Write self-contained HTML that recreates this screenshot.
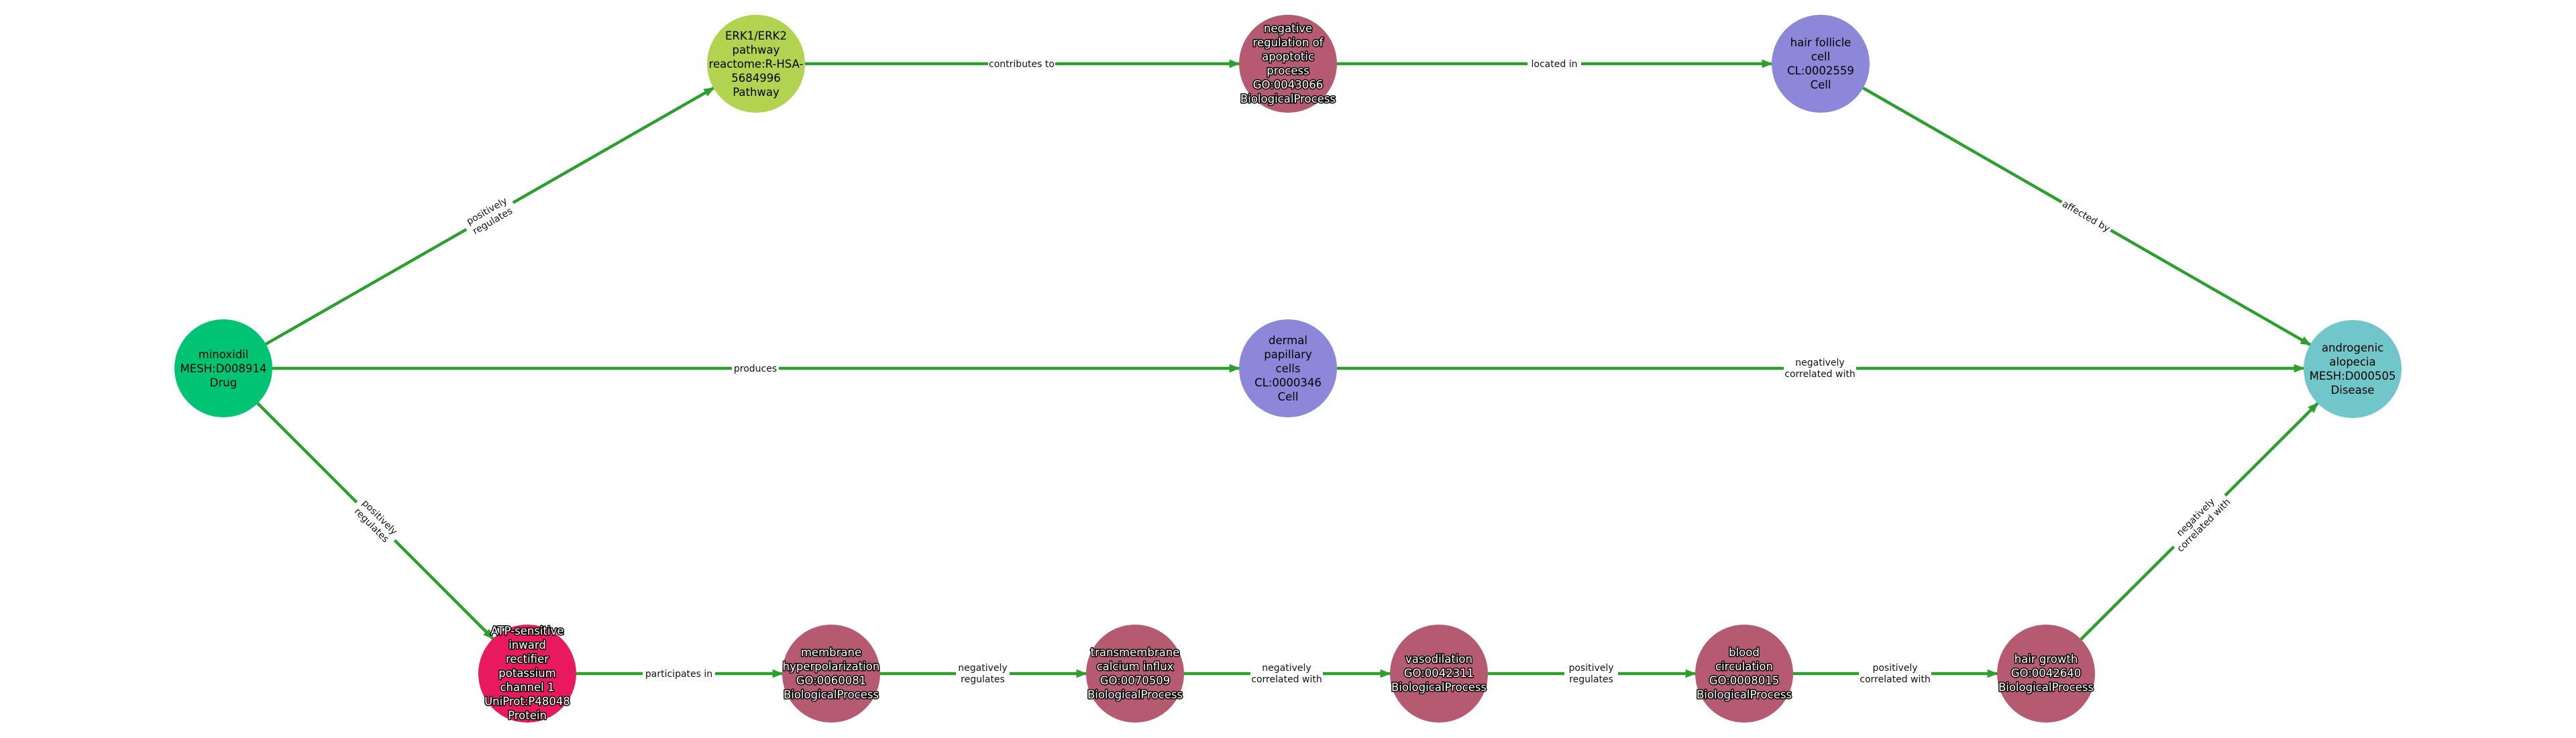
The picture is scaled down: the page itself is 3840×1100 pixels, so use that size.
<!DOCTYPE html>
<html><head><meta charset="utf-8"><style>
html,body{margin:0;padding:0;background:#fff;}
svg{display:block;}
.n{font-family:"DejaVu Sans","Liberation Sans",sans-serif;font-size:16.5px;text-anchor:middle;fill:#000;}
.w{fill:#fff;stroke:#000;stroke-width:3px;paint-order:stroke;stroke-linejoin:round;}
.e{font-family:"DejaVu Sans","Liberation Sans",sans-serif;font-size:14px;text-anchor:middle;fill:#111;}
.l{stroke:#2ca02c;stroke-width:4.5;fill:none;}
</style></head><body>
<svg width="3840" height="1100" viewBox="0 0 3840 1100" xmlns="http://www.w3.org/2000/svg">
<defs><marker id="a" markerWidth="10" markerHeight="8" refX="9" refY="4" orient="auto" markerUnits="userSpaceOnUse"><path d="M0,0 L10,4 L0,8 Z" fill="#2ca02c"/></marker>
<marker id="b" viewBox="0 0 10 8" markerWidth="16" markerHeight="13" refX="9" refY="4" orient="auto" markerUnits="userSpaceOnUse"><path d="M0,0 L10,4 L0,8 Z" fill="#2ca02c"/></marker></defs>
<g class="l" marker-end="url(#b)">
<line x1="396" y1="513" x2="1064" y2="131"/>
<line x1="406" y1="549" x2="1847" y2="549"/>
<line x1="384" y1="601" x2="735" y2="952"/>
<line x1="1200" y1="95" x2="1847" y2="95"/>
<line x1="1993" y1="95" x2="2641" y2="95"/>
<line x1="2777" y1="131" x2="3444" y2="514"/>
<line x1="1993" y1="549" x2="3434" y2="549"/>
<line x1="3102" y1="953" x2="3455" y2="601"/>
<line x1="859" y1="1004" x2="1166" y2="1004"/>
<line x1="1312" y1="1004" x2="1619" y2="1004"/>
<line x1="1765" y1="1004" x2="2072" y2="1004"/>
<line x1="2218" y1="1004" x2="2527" y2="1004"/>
<line x1="2673" y1="1004" x2="2977" y2="1004"/>
</g>
<!-- edge labels -->
<g class="e">
<g transform="translate(730,322) rotate(-29.8)"><rect x="-40" y="-20" width="80" height="38" fill="#fff"/><text y="-4">positively</text><text y="13">regulates</text></g>
<g transform="translate(560,777) rotate(45)"><rect x="-40" y="-20" width="80" height="38" fill="#fff"/><text y="-4">positively</text><text y="13">regulates</text></g>
<g transform="translate(3110,322) rotate(29.8)"><rect x="-42" y="-11" width="84" height="20" fill="#fff"/><text y="5">affected by</text></g>
<g transform="translate(3279,777) rotate(-45)"><rect x="-54" y="-20" width="108" height="38" fill="#fff"/><text y="-4">negatively</text><text y="13">correlated with</text></g>
<g transform="translate(1523,95)"><rect x="-50" y="-11" width="100" height="20" fill="#fff"/><text y="5">contributes to</text></g>
<g transform="translate(2317,95)"><rect x="-40" y="-11" width="80" height="20" fill="#fff"/><text y="5">located in</text></g>
<g transform="translate(1126,549)"><rect x="-35" y="-11" width="70" height="20" fill="#fff"/><text y="5">produces</text></g>
<g transform="translate(2713,549)"><rect x="-54" y="-20" width="108" height="38" fill="#fff"/><text y="-4">negatively</text><text y="13">correlated with</text></g>
<g transform="translate(1012,1004)"><rect x="-54" y="-11" width="108" height="20" fill="#fff"/><text y="5">participates in</text></g>
<g transform="translate(1465,1004)"><rect x="-40" y="-20" width="80" height="38" fill="#fff"/><text y="-4">negatively</text><text y="13">regulates</text></g>
<g transform="translate(1918,1004)"><rect x="-54" y="-20" width="108" height="38" fill="#fff"/><text y="-4">negatively</text><text y="13">correlated with</text></g>
<g transform="translate(2372,1004)"><rect x="-40" y="-20" width="80" height="38" fill="#fff"/><text y="-4">positively</text><text y="13">regulates</text></g>
<g transform="translate(2825,1004)"><rect x="-54" y="-20" width="108" height="38" fill="#fff"/><text y="-4">positively</text><text y="13">correlated with</text></g>
</g>
<!-- nodes -->
<circle cx="333" cy="549" r="73" fill="#00c473"/>
<circle cx="1127" cy="95" r="73" fill="#b1d34f"/>
<circle cx="1920" cy="95" r="73" fill="#b55a70"/>
<circle cx="2714" cy="95" r="73" fill="#8c87d8"/>
<circle cx="3507" cy="550" r="73" fill="#71c6ca"/>
<circle cx="1920" cy="549" r="73" fill="#8c87d8"/>
<circle cx="786" cy="1004" r="73" fill="#e8195f"/>
<circle cx="1239" cy="1004" r="73" fill="#b55a70"/>
<circle cx="1692" cy="1004" r="73" fill="#b55a70"/>
<circle cx="2145" cy="1004" r="73" fill="#b55a70"/>
<circle cx="2600" cy="1004" r="73" fill="#b55a70"/>
<circle cx="3050" cy="1004" r="73" fill="#b55a70"/>
<g class="n">
<text x="333" y="534">minoxidil</text><text x="333" y="555">MESH:D008914</text><text x="333" y="576">Drug</text>
<text x="1127" y="59">ERK1/ERK2</text><text x="1127" y="80">pathway</text><text x="1127" y="101">reactome:R-HSA-</text><text x="1127" y="122">5684996</text><text x="1127" y="143">Pathway</text>
<g class="w"><text x="1920" y="48">negative</text><text x="1920" y="69">regulation of</text><text x="1920" y="90">apoptotic</text><text x="1920" y="111">process</text><text x="1920" y="132">GO:0043066</text><text x="1920" y="153">BiologicalProcess</text></g>
<text x="2714" y="69">hair follicle</text><text x="2714" y="90">cell</text><text x="2714" y="111">CL:0002559</text><text x="2714" y="132">Cell</text>
<text x="3507" y="524">androgenic</text><text x="3507" y="545">alopecia</text><text x="3507" y="566">MESH:D000505</text><text x="3507" y="587">Disease</text>
<text x="1920" y="513">dermal</text><text x="1920" y="534">papillary</text><text x="1920" y="555">cells</text><text x="1920" y="576">CL:0000346</text><text x="1920" y="597">Cell</text>
<g class="w">
<text x="786" y="946">ATP-sensitive</text><text x="786" y="967">inward</text><text x="786" y="988">rectifier</text><text x="786" y="1009">potassium</text><text x="786" y="1030">channel 1</text><text x="786" y="1051">UniProt:P48048</text><text x="786" y="1072">Protein</text>
<text x="1239" y="978">membrane</text><text x="1239" y="999">hyperpolarization</text><text x="1239" y="1020">GO:0060081</text><text x="1239" y="1041">BiologicalProcess</text>
<text x="1692" y="978">transmembrane</text><text x="1692" y="999">calcium influx</text><text x="1692" y="1020">GO:0070509</text><text x="1692" y="1041">BiologicalProcess</text>
<text x="2145" y="988">vasodilation</text><text x="2145" y="1009">GO:0042311</text><text x="2145" y="1030">BiologicalProcess</text>
<text x="2600" y="978">blood</text><text x="2600" y="999">circulation</text><text x="2600" y="1020">GO:0008015</text><text x="2600" y="1041">BiologicalProcess</text>
<text x="3050" y="988">hair growth</text><text x="3050" y="1009">GO:0042640</text><text x="3050" y="1030">BiologicalProcess</text>
</g>
</g>
</svg>
</body></html>
